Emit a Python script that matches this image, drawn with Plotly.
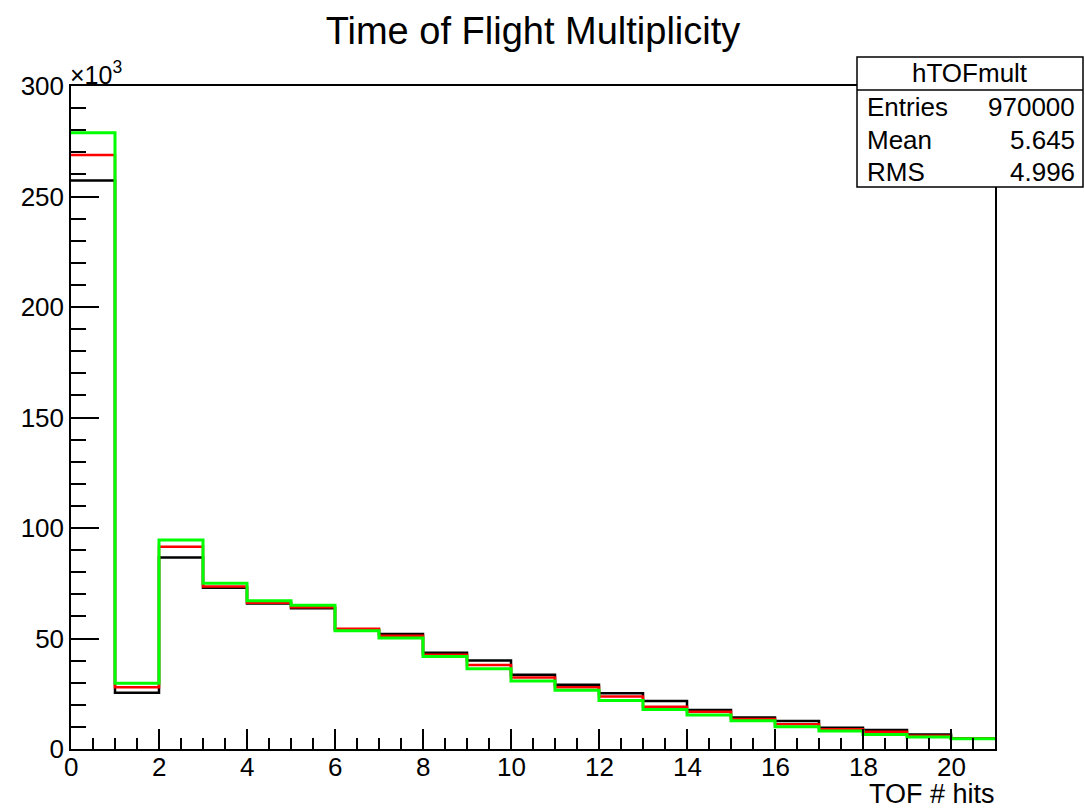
import plotly.graph_objects as go

# ---- data (counts per bin, bins of width 1 from 0 to 21) ----
bin_edges = list(range(0, 22))
black_counts = [257200, 25500, 86700, 73000, 65800, 63700, 54000, 52000, 43600, 40000,
                33600, 29100, 25200, 21700, 17600, 14300, 12700, 9600, 8600, 6600, 4800]
red_counts = [268800, 27900, 91500, 73500, 66200, 64100, 54400, 51300, 42700, 38000,
              32400, 27900, 23700, 19100, 16900, 13600, 11200, 8900, 7800, 6000, 4700]
green_counts = [278900, 29700, 94600, 75000, 67100, 65000, 53500, 50200, 41800, 36300,
                30800, 26600, 21900, 17900, 15400, 12800, 10100, 8100, 6600, 5400, 4600]

x_ticks = list(range(0, 21, 2))
y_ticks = [0, 50000, 100000, 150000, 200000, 250000, 300000]
y_ticktext = ["0", "50", "100", "150", "200", "250", "300"]

stat_title = "hTOFmult"
stat_names = ["Entries", "Mean", "RMS"]
stat_values = ["970000", "5.645", "4.996"]

FONT = "Liberation Sans, Arial, Helvetica, sans-serif"
W, H = 1085, 809
L, R, T, B = 71, 90, 86, 60
PW, PH = W - L - R, H - T - B


def px(xp):
    return (xp - L) / PW


def py(yp):
    return (H - B - yp) / PH


fig = go.Figure()
for counts, color, width in [(black_counts, "black", 2.5),
                             (red_counts, "#ff0000", 2.5),
                             (green_counts, "#00ff00", 3)]:
    fig.add_trace(go.Scatter(
        x=bin_edges, y=counts + [counts[-1]],
        mode="lines", line=dict(shape="hv", color=color, width=width),
        showlegend=False, hoverinfo="skip"))

fig.update_layout(
    width=W, height=H,
    margin=dict(l=L, r=R, t=T, b=B),
    paper_bgcolor="white", plot_bgcolor="white",
    font=dict(family=FONT, size=26, color="black"),
    title=dict(text="Time of Flight Multiplicity", x=533 / W, xref="container",
               xanchor="center", y=1 - 31 / H, yref="container", yanchor="middle",
               font=dict(size=38, family=FONT, color="black")),
    showlegend=False,
)

fig.update_xaxes(
    range=[0, 21], tickvals=x_ticks, ticks="inside", ticklen=20, tickwidth=1.5,
    tickcolor="black", showgrid=False, zeroline=False, showticklabels=False,
    showline=True, linecolor="black", linewidth=1.5, mirror=True,
    minor=dict(dtick=0.5, tick0=0, ticks="inside", ticklen=11, tickwidth=1.5,
               tickcolor="black", showgrid=False),
)
fig.update_yaxes(
    range=[0, 300000], tickvals=y_ticks, ticktext=y_ticktext, ticks="inside",
    ticklen=28, tickwidth=1.5, tickcolor="black", showgrid=False, zeroline=False,
    showline=True, linecolor="black", linewidth=1.5, mirror=True,
    tickfont=dict(size=26, family=FONT),
    minor=dict(dtick=10000, tick0=0, ticks="inside", ticklen=15, tickwidth=1.5,
               tickcolor="black", showgrid=False),
)

# x tick labels (placed closer to the axis, ROOT style)
for xv in x_ticks:
    fig.add_annotation(text=str(xv), xref="x", yref="paper", x=xv, y=py(767),
                       xanchor="center", yanchor="middle", showarrow=False,
                       font=dict(size=26, family=FONT))

# x-axis title, right aligned
fig.add_annotation(text="TOF # hits", xref="paper", yref="paper",
                   x=px(996), y=py(794), xanchor="right", yanchor="middle",
                   showarrow=False, borderpad=0, font=dict(size=27, family=FONT))
# exponent label
fig.add_annotation(text="×10<sup>3</sup>", xref="paper", yref="paper",
                   x=px(68), y=py(73), xanchor="left", yanchor="middle",
                   showarrow=False, font=dict(size=25, family=FONT))

# stat box
bx0, bx1, by0, by1, bhead = 857, 1083, 57, 187, 90
fig.add_shape(type="rect", xref="paper", yref="paper",
              x0=px(bx0), x1=px(bx1), y0=py(by1), y1=py(by0),
              line=dict(color="black", width=1.5), fillcolor="white", layer="above")
fig.add_shape(type="line", xref="paper", yref="paper",
              x0=px(bx0), x1=px(bx1), y0=py(bhead), y1=py(bhead),
              line=dict(color="black", width=1.5), layer="above")
fig.add_annotation(text=stat_title, xref="paper", yref="paper",
                   x=px((bx0 + bx1) / 2), y=py(73), xanchor="center", yanchor="middle",
                   showarrow=False, font=dict(size=26, family=FONT))
row_y = [107, 140, 172]
for name, val, yy in zip(stat_names, stat_values, row_y):
    fig.add_annotation(text=name, xref="paper", yref="paper",
                       x=px(865), y=py(yy), xanchor="left", yanchor="middle",
                       showarrow=False, font=dict(size=26, family=FONT))
    fig.add_annotation(text=val, xref="paper", yref="paper",
                       x=px(1077), y=py(yy), xanchor="right", yanchor="middle",
                       showarrow=False, font=dict(size=26, family=FONT))

fig.write_html("out.html")
